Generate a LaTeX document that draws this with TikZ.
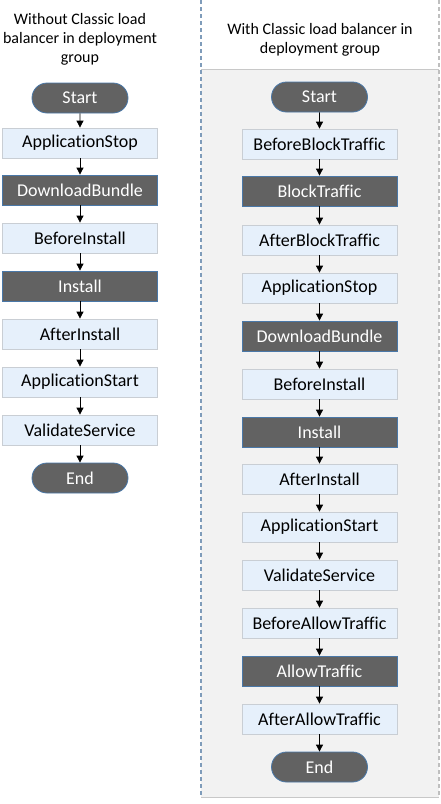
\documentclass[tikz,border=0pt]{standalone}
\usepackage{fontspec}
\setmainfont{Carlito}[Ligatures=NoCommon]
\usetikzlibrary{arrows.meta,shapes.misc}
\definecolor{lightfill}{HTML}{E6F0FB}
\definecolor{lightdraw}{HTML}{C9CED4}
\definecolor{darkfill}{HTML}{626262}
\definecolor{darkdraw}{HTML}{4A78A8}
\definecolor{panelfill}{HTML}{F2F2F2}
\definecolor{paneldraw}{HTML}{C8C8C8}
\definecolor{dashblue}{HTML}{7F9CBA}
\definecolor{dashgray}{HTML}{BFBFBF}
\tikzset{
  stepbox/.style={draw=lightdraw, fill=lightfill, line width=0.8pt, minimum width=155pt, minimum height=30pt, inner sep=0pt, font=\fontsize{18}{21}\selectfont},
  darkbox/.style={draw=darkdraw, fill=darkfill, text=white, line width=0.8pt, minimum width=155pt, minimum height=30pt, inner sep=0pt, font=\fontsize{18}{21}\selectfont},
  term/.style={rounded rectangle, draw=darkdraw, fill=darkfill, text=white, line width=0.8pt, minimum width=96pt, minimum height=30pt, inner sep=0pt, font=\fontsize{18}{21}\selectfont},
  flow/.style={-{Triangle[length=7pt,width=7pt]}, line width=0.8pt, black},
  heading/.style={align=center, font=\fontsize{16}{19}\selectfont}
}
\begin{document}
\begin{tikzpicture}[x=1pt,y=-1pt]
\useasboundingbox (0,0) rectangle (440,804);
% right panel
\fill[panelfill] (201,69) rectangle (439,797);
\draw[paneldraw, line width=0.8pt] (201,69) -- (439,69);
\draw[paneldraw, line width=0.8pt] (201,797) -- (439,797);
\draw[dashblue, line width=1.2pt, dash pattern=on 4pt off 3pt] (201,0) -- (201,797);
\draw[dashgray, line width=1.2pt, dash pattern=on 4pt off 3pt] (439,0) -- (439,797);

% headings
\node[heading] (hl) at (80,39) {Without Classic load\\balancer in deployment\\group};
\node[heading] (hr) at (320,39.5) {With Classic load balancer in\\deployment group};

% left column
\node[term]    (l0) at (80,98)  {Start};
\node[stepbox] (l1) at (80,143) {ApplicationStop};
\node[darkbox] (l2) at (80,190) {DownloadBundle};
\node[stepbox] (l3) at (80,238) {BeforeInstall};
\node[darkbox] (l4) at (80,286) {Install};
\node[stepbox] (l5) at (80,334) {AfterInstall};
\node[stepbox] (l6) at (80,382) {ApplicationStart};
\node[stepbox] (l7) at (80,430) {ValidateService};
\node[term]    (l8) at (80,478) {End};
\foreach \a/\b in {l0/l1,l1/l2,l2/l3,l3/l4,l4/l5,l5/l6,l6/l7,l7/l8}
  \draw[flow] (\a) -- (\b);

% right column
\node[term]    (r0)  at (319.5,97)  {Start};
\node[stepbox] (r1)  at (319.5,144) {BeforeBlockTraffic};
\node[darkbox] (r2)  at (319.5,191) {BlockTraffic};
\node[stepbox] (r3)  at (319.5,240) {AfterBlockTraffic};
\node[stepbox] (r4)  at (319.5,288) {ApplicationStop};
\node[darkbox] (r5)  at (319.5,336) {DownloadBundle};
\node[stepbox] (r6)  at (319.5,384) {BeforeInstall};
\node[darkbox] (r7)  at (319.5,432) {Install};
\node[stepbox] (r8)  at (319.5,479) {AfterInstall};
\node[stepbox] (r9)  at (319.5,527) {ApplicationStart};
\node[stepbox] (r10) at (319.5,575) {ValidateService};
\node[stepbox] (r11) at (319.5,623) {BeforeAllowTraffic};
\node[darkbox] (r12) at (319.5,671) {AllowTraffic};
\node[stepbox] (r13) at (319.5,719) {AfterAllowTraffic};
\node[term]    (r14) at (319.5,767) {End};
\foreach \a/\b in {r0/r1,r1/r2,r2/r3,r3/r4,r4/r5,r5/r6,r6/r7,r7/r8,r8/r9,r9/r10,r10/r11,r11/r12,r12/r13,r13/r14}
  \draw[flow] (\a) -- (\b);
\end{tikzpicture}
\end{document}
